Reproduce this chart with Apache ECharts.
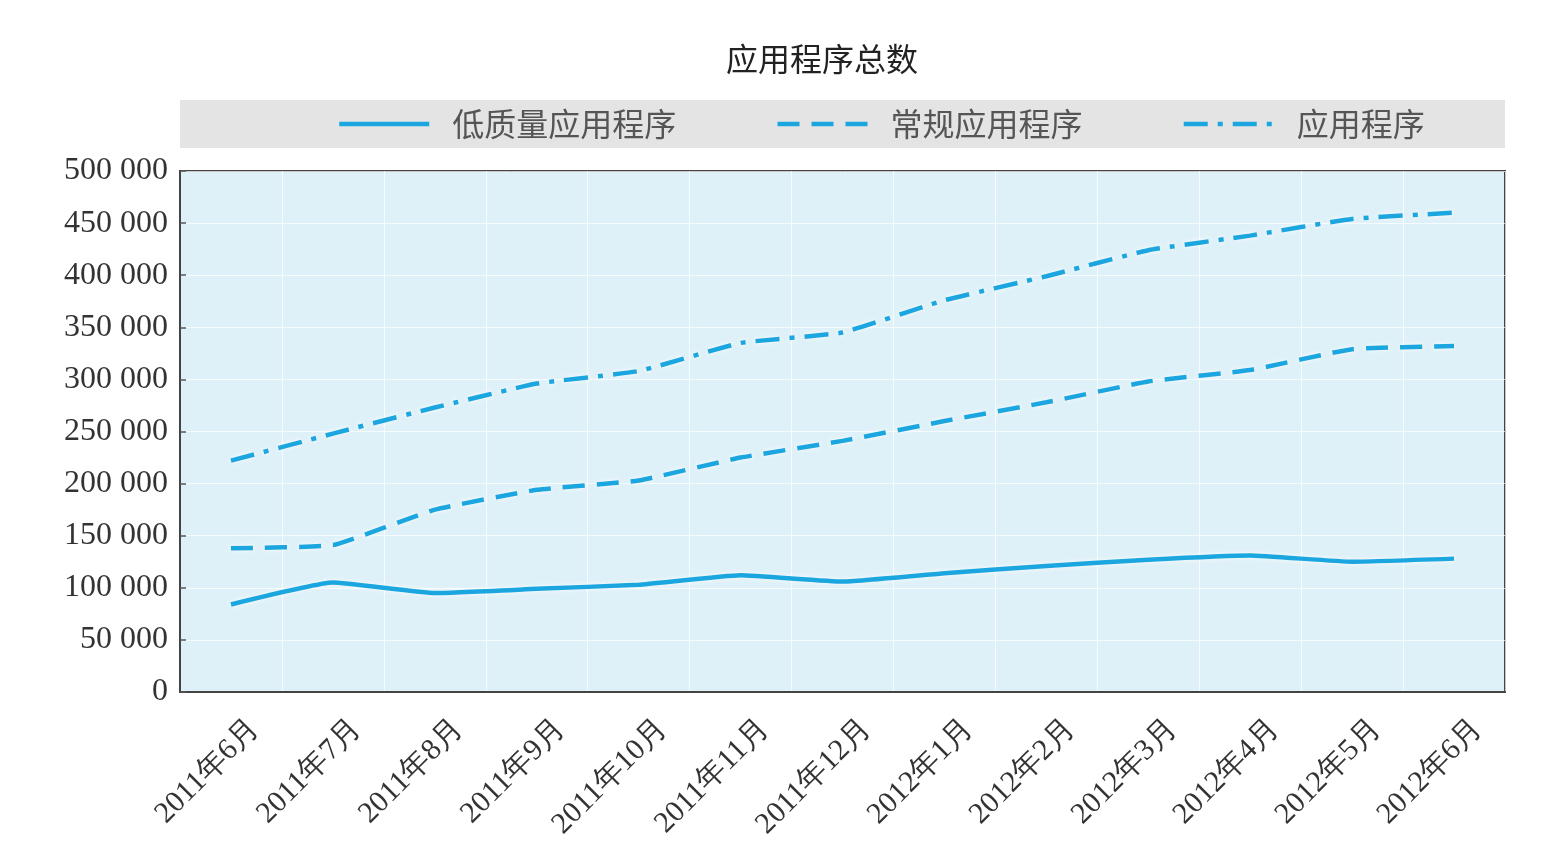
<!DOCTYPE html>
<html><head><meta charset="utf-8">
<script src="https://cdn.jsdelivr.net/npm/echarts@6/dist/echarts.min.js"></script>
<style>html,body{margin:0;padding:0;background:#fff;}#c{width:1546px;height:865px;}</style>
</head><body><div id="c"></div>
<script>
const categories = ['2011年6月','2011年7月','2011年8月','2011年9月','2011年10月','2011年11月','2011年12月','2012年1月','2012年2月','2012年3月','2012年4月','2012年5月','2012年6月'];
const lowQuality = [84000,105000,95000,99000,103000,112000,106000,114000,121000,127000,131000,125000,128000];
const regular = [138000,141000,175000,194000,203000,225000,241000,260000,278000,298000,309000,329000,332000];
const allApps = [222000,248000,273000,296000,308000,335000,345000,376000,399000,424000,438000,454000,460000];
const seriesNames = ['低质量应用程序','常规应用程序','应用程序'];
const titleText = '应用程序总数';

const C = '#1ba6e0';
const chart = echarts.init(document.getElementById('c'));
function mk(name, data, type) {
  return {
    name, type: 'line', data, smooth: 0.12, symbol: 'none',
    lineStyle: { color: C, width: 4.5, type, shadowColor: 'rgba(255,255,255,0.95)', shadowBlur: 4 },
    itemStyle: { color: C }
  };
}
chart.setOption({
  backgroundColor: '#ffffff',
  title: { text: titleText, left: 721, top: 38,
    textStyle: { fontFamily: 'Noto Sans CJK SC', fontSize: 32, fontWeight: 'normal', color: '#222' } },
  graphic: [{ type: 'rect', left: 180, top: 100, shape: { width: 1325, height: 48 }, style: { fill: '#e4e4e4' }, z: -1 }],
  legend: {
    data: seriesNames, left: 332, top: 103, itemWidth: 90, itemHeight: 14, itemGap: 99,
    itemStyle: { opacity: 0 },
    lineStyle: { width: 4.5, shadowBlur: 0 },
    textStyle: { fontFamily: 'Noto Sans CJK SC', fontSize: 32, color: '#555', padding: [0, 0, 0, 18] }
  },
  grid: { left: 180, right: 41, top: 171, bottom: 173, show: true,
    backgroundColor: '#dff1f8', borderColor: '#444', borderWidth: 2 },
  xAxis: {
    type: 'category', data: categories, boundaryGap: true,
    axisLine: { lineStyle: { color: '#444', width: 2 } },
    axisTick: { inside: true, length: 9, lineStyle: { color: '#555', width: 1.5 } },
    splitLine: { show: true, lineStyle: { color: 'rgba(255,255,255,0.7)', width: 1 } },
    axisLabel: { rotate: 45, fontFamily: 'Liberation Serif', fontSize: 30, color: '#333', margin: 8,
      verticalAlign: 'top', lineHeight: 68 }
  },
  yAxis: {
    type: 'value', min: 0, max: 500000, interval: 50000,
    axisLine: { show: true, lineStyle: { color: '#444', width: 2 } },
    axisTick: { show: true, inside: true, length: 6, lineStyle: { color: '#555', width: 1.5 } },
    splitLine: { show: true, lineStyle: { color: 'rgba(255,255,255,0.7)', width: 1 } },
    axisLabel: { fontFamily: 'Liberation Serif', fontSize: 32, color: '#333', margin: 12,
      formatter: v => String(v).replace(/\B(?=(\d{3})+(?!\d))/g, ' ') }
  },
  series: [
    mk(seriesNames[0], lowQuality, 'solid'),
    mk(seriesNames[1], regular, [22, 12]),
    mk(seriesNames[2], allApps, [24, 10, 5, 10])
  ]
});
</script></body></html>
